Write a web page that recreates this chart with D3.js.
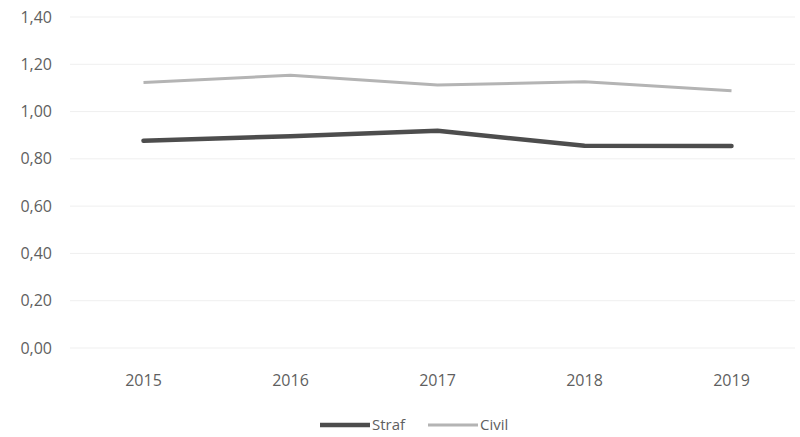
<!DOCTYPE html>
<html>
<head>
<meta charset="utf-8">
<script src="https://cdn.jsdelivr.net/npm/d3@7"></script>
<style>
  body { margin: 0; background: #fff; }
  text { font-family: "Open Sans", "DejaVu Sans", sans-serif; fill: #5f5f5f; }
</style>
</head>
<body>
<div id="chart-area"></div>
<script>
const years = ["2015", "2016", "2017", "2018", "2019"]
const straf = [0.877, 0.896, 0.919, 0.855, 0.854]
const civil = [1.123, 1.154, 1.112, 1.126, 1.088]
const yTicks = [0, 0.2, 0.4, 0.6, 0.8, 1.0, 1.2, 1.4]

const width = 800, height = 437

const svg = d3.select("#chart-area").append("svg")
	.attr("width", width)
	.attr("height", height)

const x = d3.scaleBand().domain(years).range([70, 805])
const y = d3.scaleLinear().domain([0, 1.4]).range([348, 17])

const fmt = d => d3.format(".2f")(d).replace(".", ",")

// gridlines
svg.selectAll("line.grid")
	.data(yTicks)
	.enter().append("line")
	.attr("class", "grid")
	.attr("x1", 70).attr("x2", 795)
	.attr("y1", d => y(d)).attr("y2", d => y(d))
	.attr("stroke", "#efefef")
	.attr("stroke-width", 1)

// y labels
svg.selectAll("text.ylab")
	.data(yTicks)
	.enter().append("text")
	.attr("class", "ylab")
	.attr("x", 52)
	.attr("y", d => y(d))
	.attr("dy", "0.35em")
	.attr("text-anchor", "end")
	.attr("font-size", 16)
	.text(fmt)

// x labels
svg.selectAll("text.xlab")
	.data(years)
	.enter().append("text")
	.attr("class", "xlab")
	.attr("x", d => x(d) + x.bandwidth() / 2)
	.attr("y", 386)
	.attr("text-anchor", "middle")
	.attr("font-size", 16)
	.text(d => d)

const line = d3.line()
	.x((d, i) => x(years[i]) + x.bandwidth() / 2)
	.y(d => y(d))

svg.append("path").datum(civil)
	.attr("d", line)
	.attr("fill", "none")
	.attr("stroke", "#b4b4b4")
	.attr("stroke-width", 3)
	.attr("stroke-linejoin", "round")

svg.append("path").datum(straf)
	.attr("d", line)
	.attr("fill", "none")
	.attr("stroke", "#4d4d4d")
	.attr("stroke-width", 4.5)
	.attr("stroke-linejoin", "round")
	.attr("stroke-linecap", "round")

// legend
const legend = [
	{ name: "Straf", color: "#4d4d4d", w: 4.5, x: 320 },
	{ name: "Civil", color: "#b4b4b4", w: 3, x: 428 }
]
const lg = svg.selectAll("g.legend")
	.data(legend)
	.enter().append("g")
	.attr("transform", d => `translate(${d.x},425)`)
lg.append("line")
	.attr("x1", 0).attr("x2", 50)
	.attr("stroke", d => d.color)
	.attr("stroke-width", d => d.w)
lg.append("text")
	.attr("x", 52)
	.attr("dy", "0.35em")
	.attr("font-size", 15)
	.text(d => d.name)
</script>
</body>
</html>
